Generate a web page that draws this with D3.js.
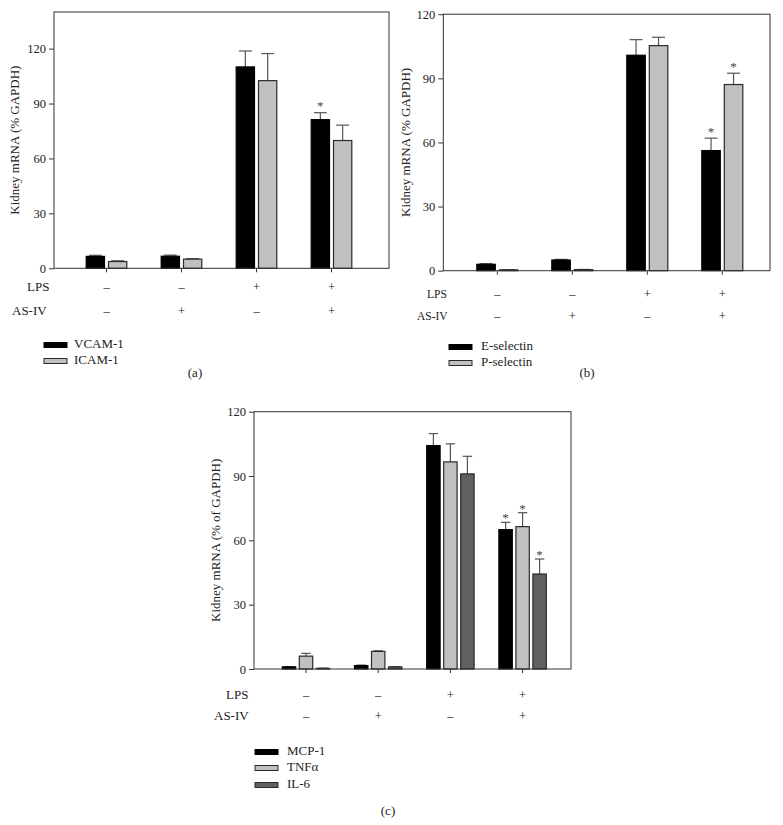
<!DOCTYPE html>
<html>
<head>
<meta charset="utf-8">
<script src="https://cdn.jsdelivr.net/npm/d3@7"></script>
<style>
  html, body { margin: 0; padding: 0; background: #fff; }
  svg { display: block; }
  text { font-family: "Liberation Serif", "Times New Roman", serif; fill: #222; }
</style>
</head>
<body>
<svg id="chart" width="783" height="825"></svg>
<script>
// ---------- DATA ----------
const groups = ["G1", "G2", "G3", "G4"];
const lpsSigns = ["\u2013", "\u2013", "+", "+"];
const asivSigns = ["\u2013", "+", "\u2013", "+"];
const yTicks = [0, 30, 60, 90, 120];

// Panel (a)
const vcamValues = [6.5, 6.6, 110.0, 81.2];
const vcamErrors = [0.6, 0.6, 8.7, 3.8];
const vcamStars = [false, false, false, true];
const icamValues = [3.7, 5.0, 102.5, 69.8];
const icamErrors = [0.4, 0.3, 14.8, 8.4];
const icamStars = [false, false, false, false];

// Panel (b)
const eselValues = [3.0, 5.0, 100.8, 56.2];
const eselErrors = [0.3, 0.3, 7.3, 5.8];
const eselStars = [false, false, false, true];
const pselValues = [0.4, 0.5, 105.3, 87.1];
const pselErrors = [0.1, 0.1, 3.9, 5.3];
const pselStars = [false, false, false, true];

// Panel (c)
const mcpValues = [1.0, 1.6, 104.2, 65.0];
const mcpErrors = [0.1, 0.2, 5.6, 3.4];
const mcpStars = [false, false, false, true];
const tnfValues = [6.0, 8.2, 96.6, 66.4];
const tnfErrors = [1.3, 0.3, 8.4, 6.5];
const tnfStars = [false, false, false, true];
const il6Values = [0.3, 1.0, 91.0, 44.3];
const il6Errors = [0.1, 0.1, 8.2, 7.0];
const il6Stars = [false, false, false, true];

const BLACK = "#000000", LIGHT = "#c0c0c0", DARK = "#606060";

// ---------- LAYOUT ----------
const panels = [
  {
    caption: "(a)", yLabel: "Kidney mRNA (% GAPDH)", ymax: 140,
    left: 54, right: 389, top: 12, bottom: 268.3,
    bandStart: 69, bandEnd: 369, barW: 18.3, gap: 4,
    labelX: 16, rowFont: 13,
    lpsY: 291, asivY: 315, lpsX: 27, asivX: 12,
    legX: 44, legYs: [345, 361], legTextX: 74,
    capX: 195, capY: 377, starOff: -3,
    series: [
      { name: "VCAM-1", fill: BLACK, values: vcamValues, errors: vcamErrors, stars: vcamStars },
      { name: "ICAM-1", fill: LIGHT, values: icamValues, errors: icamErrors, stars: icamStars }
    ]
  },
  {
    caption: "(b)", yLabel: "Kidney mRNA (% GAPDH)", ymax: 120,
    left: 443.3, right: 770, top: 14.2, bottom: 270.7,
    bandStart: 459.8, bandEnd: 759.8, barW: 18.5, gap: 4,
    labelX: 407, rowFont: 11.5,
    lpsY: 298, asivY: 320, lpsX: 427, asivX: 417,
    legX: 449, legYs: [347, 363], legTextX: 481,
    capX: 587, capY: 377, starOff: -2,
    series: [
      { name: "E-selectin", fill: BLACK, values: eselValues, errors: eselErrors, stars: eselStars },
      { name: "P-selectin", fill: LIGHT, values: pselValues, errors: pselErrors, stars: pselStars }
    ]
  },
  {
    caption: "(c)", yLabel: "Kidney mRNA (% of GAPDH)", ymax: 120,
    left: 254, right: 571, top: 411.7, bottom: 669,
    bandStart: 269.9, bandEnd: 558.7, barW: 13.4, gap: 3.6,
    labelX: 217, rowFont: 13,
    lpsY: 699, asivY: 720, lpsX: 226, asivX: 214,
    legX: 255, legYs: [752, 768, 785], legTextX: 287,
    capX: 388, capY: 815, starOff: 0,
    series: [
      { name: "MCP-1", fill: BLACK, values: mcpValues, errors: mcpErrors, stars: mcpStars },
      { name: "TNF\u03b1", fill: LIGHT, values: tnfValues, errors: tnfErrors, stars: tnfStars },
      { name: "IL-6", fill: DARK, values: il6Values, errors: il6Errors, stars: il6Stars }
    ]
  }
];

const svg = d3.select("#chart");

panels.forEach(p => {
  const g = svg.append("g");
  const x = d3.scaleBand().domain(groups).range([p.bandStart, p.bandEnd]).paddingInner(0).paddingOuter(0);
  const y = d3.scaleLinear().domain([0, p.ymax]).range([p.bottom, p.top]);
  const n = p.series.length;
  const sub = d3.scaleBand().domain(p.series.map(s => s.name))
    .range([-(n * p.barW + (n - 1) * p.gap) / 2, (n * p.barW + (n - 1) * p.gap) / 2])
    .paddingInner(p.gap / (p.barW + p.gap)).paddingOuter(0);

  p.series.forEach(s => {
    const data = groups.map((k, i) => ({ k, v: s.values[i], e: s.errors[i], star: s.stars[i] }));
    const cx = d => x(d.k) + x.bandwidth() / 2 + sub(s.name) + sub.bandwidth() / 2;
    const sg = g.append("g");
    sg.selectAll("line.err").data(data).join("line")
      .attr("x1", cx).attr("x2", cx)
      .attr("y1", d => y(d.v)).attr("y2", d => y(d.v + d.e))
      .attr("stroke", "#555").attr("stroke-width", 1.2);
    sg.selectAll("line.cap").data(data).join("line")
      .attr("x1", d => cx(d) - sub.bandwidth() * 0.35)
      .attr("x2", d => cx(d) + sub.bandwidth() * 0.35)
      .attr("y1", d => y(d.v + d.e)).attr("y2", d => y(d.v + d.e))
      .attr("stroke", "#555").attr("stroke-width", 1.2);
    sg.selectAll("rect").data(data).join("rect")
      .attr("x", d => x(d.k) + x.bandwidth() / 2 + sub(s.name))
      .attr("width", sub.bandwidth())
      .attr("y", d => y(d.v))
      .attr("height", d => Math.max(0.5, y(0) - y(d.v)))
      .attr("fill", s.fill)
      .attr("stroke", s.fill === BLACK ? "#000" : "#2a2a2a")
      .attr("stroke-width", 1.2);
    sg.selectAll("text.star").data(data.filter(d => d.star)).join("text")
      .attr("x", cx)
      .attr("y", d => y(d.v + d.e) + p.starOff)
      .attr("text-anchor", "middle")
      .attr("font-size", 13)
      .style("fill", "#444")
      .text("*");
  });

  g.append("rect")
    .attr("x", p.left).attr("y", p.top)
    .attr("width", p.right - p.left).attr("height", p.bottom - p.top)
    .attr("fill", "none").attr("stroke", "#333").attr("stroke-width", 1);

  const yAxis = d3.axisLeft(y).tickValues(yTicks).tickSize(5).tickPadding(3).tickFormat(d3.format("d"));
  const ya = g.append("g").attr("transform", `translate(${p.left},0)`).call(yAxis);
  ya.select(".domain").remove();
  ya.selectAll("line").attr("stroke", "#333");
  ya.selectAll("text").attr("font-size", 12.5).attr("font-family", "Liberation Serif").attr("fill", "#222").style("fill", "#222");

  const xAxis = d3.axisBottom(x).tickSize(4).tickFormat("");
  const xa = g.append("g").attr("transform", `translate(0,${p.bottom})`).call(xAxis);
  xa.select(".domain").remove();
  xa.selectAll("line").attr("stroke", "#333");

  g.append("text")
    .attr("transform", `translate(${p.labelX},${(p.top + p.bottom) / 2}) rotate(-90)`)
    .attr("text-anchor", "middle").attr("dominant-baseline", "middle")
    .attr("font-size", 13)
    .text(p.yLabel);

  g.append("text").attr("x", p.lpsX).attr("y", p.lpsY).attr("font-size", p.rowFont).text("LPS");
  g.append("text").attr("x", p.asivX).attr("y", p.asivY).attr("font-size", p.rowFont).text("AS-IV");
  g.selectAll("text.lps").data(groups).join("text")
    .attr("x", d => x(d) + x.bandwidth() / 2).attr("y", p.lpsY)
    .attr("text-anchor", "middle").attr("font-size", 12.5)
    .text((d, i) => lpsSigns[i]);
  g.selectAll("text.asiv").data(groups).join("text")
    .attr("x", d => x(d) + x.bandwidth() / 2).attr("y", p.asivY)
    .attr("text-anchor", "middle").attr("font-size", 12.5)
    .text((d, i) => asivSigns[i]);

  p.series.forEach((s, i) => {
    g.append("rect")
      .attr("x", p.legX).attr("y", p.legYs[i] - 2.5)
      .attr("width", 23).attr("height", 5)
      .attr("fill", s.fill).attr("stroke", s.fill === BLACK ? "#000" : "#2a2a2a").attr("stroke-width", 1);
    g.append("text")
      .attr("x", p.legTextX).attr("y", p.legYs[i])
      .attr("dominant-baseline", "middle")
      .attr("font-size", 13)
      .text(s.name);
  });

  g.append("text")
    .attr("x", p.capX).attr("y", p.capY)
    .attr("text-anchor", "middle").attr("font-size", 13)
    .text(p.caption);
});
</script>
</body>
</html>
